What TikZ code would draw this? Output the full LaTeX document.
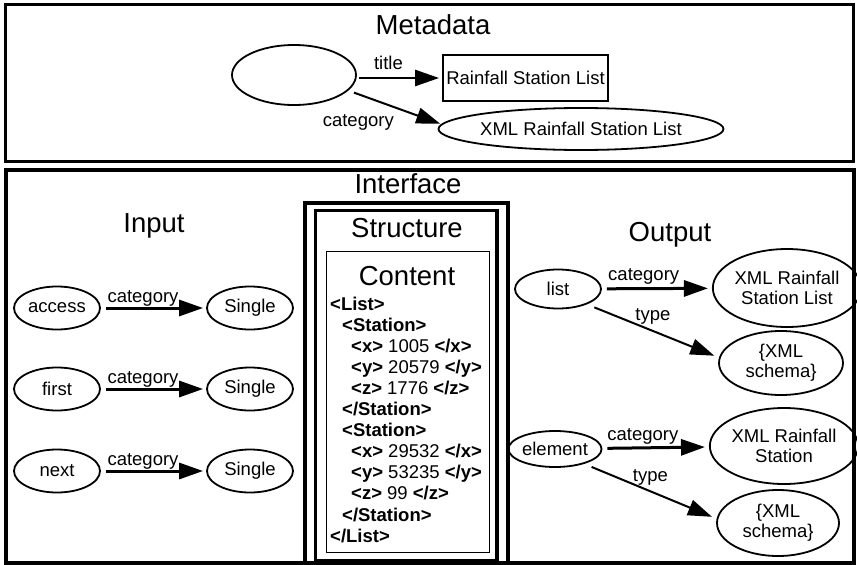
\documentclass[tikz,border=0pt]{standalone}
\usepackage{fontspec}
\setmainfont{Liberation Sans}
\usetikzlibrary{shapes,arrows.meta,positioning,calc}

\newcommand{\xtag}[1]{\textbf{#1}}

\tikzset{
  ttl/.style={font=\fontsize{27.5}{30}\selectfont, anchor=base, inner sep=0pt},
  txt/.style={font=\fontsize{18.5}{20}\selectfont},
  res/.style={txt, ellipse, draw, line width=1.8pt, inner sep=0pt, align=center},
  sz/.style 2 args={minimum width=#1, minimum height=#2},
  rel/.style={-{Triangle[length=24pt,width=16pt]}, line width=3pt, shorten <=5pt, shorten >=4pt},
  thinrel/.style={rel, line width=2pt},
  lbl/.style={txt, inner sep=0pt},
  panel/.style={draw, line width=4pt},
}

\begin{document}
\begin{tikzpicture}[x=1pt, y=-1pt]
  \useasboundingbox (0,0) rectangle (857,565);
  % Outer panels
  \draw[panel, line width=3pt] (5,4) rectangle (853,161);
  \draw[panel] (6,170) rectangle (854,563);
  \draw[panel] (305,203) rectangle (508,563);
  \draw[panel, line width=3.5pt] (315.5,210.5) rectangle (497,561);
  \draw[line width=1pt] (326,251) rectangle (489.5,552);
  % Titles
  \node[ttl] (tmeta) at (433,34) {Metadata};
  \node[ttl] (tintf) at (408,193) {Interface};
  \node[ttl] (tin) at (154,232) {Input};
  \node[ttl] (tstruct) at (407,237) {Structure};
  \node[ttl] (tout) at (670,241) {Output};
  \node[ttl] (tcont) at (407,285) {Content};

  % Metadata
  \node[res, sz={124pt}{60pt}] (blank) at (294,75) {};
  \node[txt, draw, line width=1.8pt, inner sep=0pt, sz={165pt}{46pt}] (mtitle) at (525.5,78) {Rainfall Station List};
  \node[res, sz={278pt}{42pt}] (mcat) at (581,129) {XML Rainfall Station List};
  \draw[thinrel, line width=2.5pt, shorten <=2pt, shorten >=3pt] (mtitle.west -| blank.east) -- node[lbl, above, pos=0.37, inner sep=7pt] (ltitle) {title} (mtitle.west);
  \draw[thinrel, shorten <=6pt, shorten >=1pt] (blank.-16) -- node[lbl, pos=0.5, anchor=north east, yshift=-6pt] (lmcat) {category} (mcat.178);

  % Input
  \foreach \nm/\lab/\y in {acc/access/308, fst/first/389, nxt/next/471}{
    \node[res, sz={86pt}{43pt}] (\nm) at (57,\y) {\lab};
    \node[res, sz={86pt}{43pt}] (\nm s) at (250,\y) {Single};
    \draw[rel, shorten >=3pt] (\nm) -- node[lbl, above, pos=0.4] (l\nm) {category} (\nm s);
  }

  % Content
  \foreach \dx/\ln [count=\i from 0] in {
    0/{\xtag{<List>}},
    12/{\xtag{<Station>}},
    21/{\xtag{<x>} 1005 \xtag{</x>}},
    21/{\xtag{<y>} 20579 \xtag{</y>}},
    21/{\xtag{<z>} 1776 \xtag{</z>}},
    12/{\xtag{</Station>}},
    12/{\xtag{<Station>}},
    21/{\xtag{<x>} 29532 \xtag{</x>}},
    21/{\xtag{<y>} 53235 \xtag{</y>}},
    21/{\xtag{<z>} 99 \xtag{</z>}},
    12/{\xtag{</Station>}},
    0/{\xtag{</List>}}}
    \node[txt, anchor=base west, inner sep=0pt] (xml\i) at (330+\dx, 310+21.1*\i) {\ln};

  % Output
  \node[res, sz={86pt}{39pt}] (list) at (558,289) {list};
  \node[res, sz={130pt}{78pt}] (olcat) at (787,288) {XML Rainfall\\Station List};
  \node[res, sz={124pt}{64pt}] (oltype) at (781,363) {\{XML\\schema\}};
  \node[res, sz={86pt}{36pt}] (elem) at (555,449) {element};
  \node[res, sz={132pt}{76pt}] (oecat) at (784,446) {XML Rainfall\\Station};
  \node[res, sz={122pt}{66pt}] (oetype) at (778,523) {\{XML\\schema\}};
  \draw[rel] (list) -- node[lbl, above, pos=0.38, inner sep=2.5pt] (llcat) {category} (olcat);
  \draw[thinrel, shorten <=8pt, shorten >=5pt] (list.-28) -- node[lbl, above, inner sep=6pt] (lltype) {type} (oltype.175);
  \draw[rel] (elem) -- node[lbl, above, pos=0.38, inner sep=2pt] (lecat) {category} (oecat);
  \draw[thinrel, shorten <=8pt, shorten >=5pt] (elem.-27) -- node[lbl, above, inner sep=5pt] (letype) {type} (oetype.176);
\end{tikzpicture}
\end{document}
